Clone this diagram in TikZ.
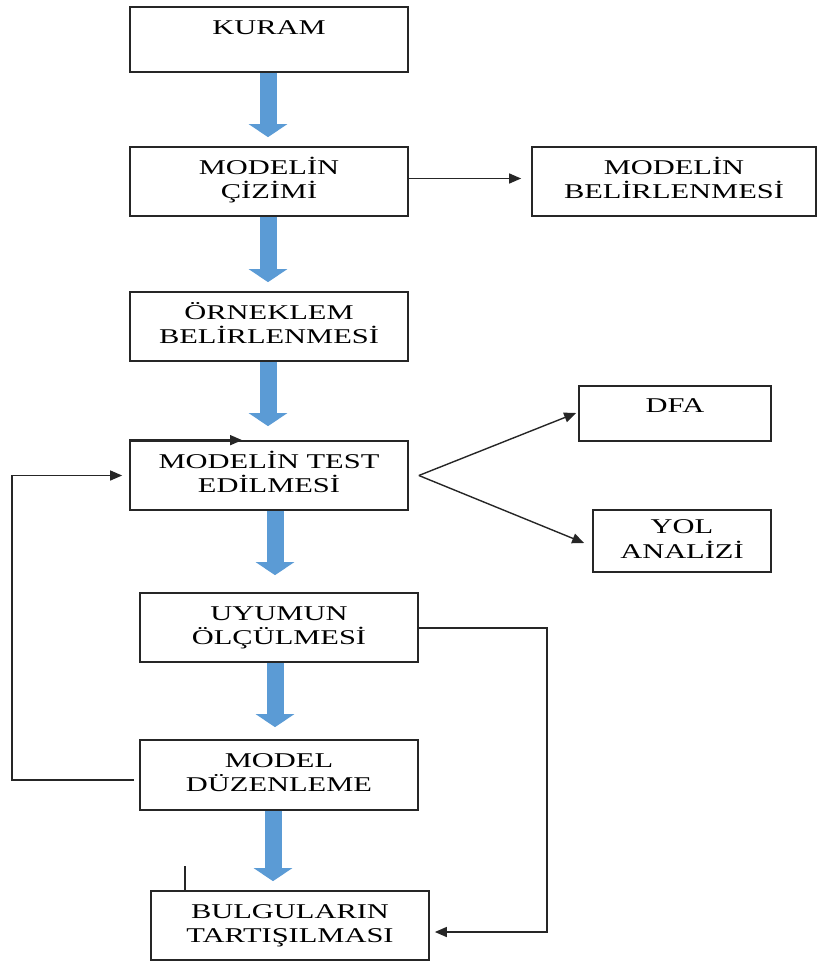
\documentclass[tikz,border=0pt]{standalone}
\usepackage{fontspec}
\setmainfont{Liberation Serif}
\usepackage{graphicx}
\usetikzlibrary{arrows.meta,calc}
\definecolor{flowblue}{RGB}{91,155,213}
\newcommand\W[1]{\scalebox{1.45}[1]{\begin{tabular}{@{}c@{}}#1\end{tabular}}}
\newcommand\Wone[2]{\raisebox{#1}[0pt][0pt]{\scalebox{1.45}[1]{#2}}}
\begin{document}
\begin{tikzpicture}[x=1pt,y=-1pt,
  box/.style={draw=black!85,line width=1.7pt,rectangle,inner sep=0pt,
    font=\fontsize{21}{24}\selectfont,text=black},
  bigarrow/.style={flowblue,line width=17pt,-{Triangle[width=38pt,length=13pt]}},
  conn/.style={black!85,line width=1.4pt,-{Triangle[width=10pt,length=12pt]}},
  plainline/.style={black!85,line width=1.4pt}]
\useasboundingbox (0,0) rectangle (818,963);

\node[box,minimum width=278,minimum height=65] (kuram) at (269,39.5) {\Wone{4.5pt}{KURAM}};
\node[box,minimum width=278,minimum height=69] (cizim) at (269,181.5) {\W{MODELİN\\ÇİZİMİ}};
\node[box,minimum width=284,minimum height=69] (belir) at (674,181.5) {\W{MODELİN\\BELİRLENMESİ}};
\node[box,minimum width=278,minimum height=69] (ornek) at (269,326.5) {\W{ÖRNEKLEM\\BELİRLENMESİ}};
\node[box,minimum width=278,minimum height=69] (test) at (269,475.5) {\W{MODELİN TEST\\EDİLMESİ}};
\node[box,minimum width=192,minimum height=55] (dfa) at (675,413.5) {\Wone{1.5pt}{DFA}};
\node[box,minimum width=178,minimum height=62] (yol) at (682,541) {\W{YOL\\ANALİZİ}};
\node[box,minimum width=278,minimum height=69] (uyum) at (279,627.5) {\W{UYUMUN\\ÖLÇÜLMESİ}};
\node[box,minimum width=278,minimum height=70] (duz) at (279,775) {\W{MODEL\\DÜZENLEME}};
\node[box,minimum width=278,minimum height=69] (bulg) at (290,925.5) {\W{BULGULARIN\\TARTIŞILMASI}};

% blue flow arrows
\draw[bigarrow] ($(kuram.south)+(-1,0)$) -- ($(cizim.north)+(-1,-9)$);
\draw[bigarrow] ($(cizim.south)+(-1,0)$) -- ($(ornek.north)+(-1,-9)$);
\draw[bigarrow] ($(ornek.south)+(-1,0)$) -- ($(test.north)+(-1,-14)$);
\draw[bigarrow] ($(test.south)+(6,0)$) -- ($(uyum.north)+(-4,-17)$);
\draw[bigarrow] ($(uyum.south)+(-4,0)$) -- ($(duz.north)+(-4,-12)$);
\draw[bigarrow] ($(duz.south)+(-6,0)$) -- ($(bulg.north)+(-17,-9)$);

% thin connectors
\draw[conn] ($(cizim.east)+(0,-3)$) -- ($(belir.west)+(-10,-3)$);
\coordinate (toptip) at ($(test.north west)+(113,0)$);
\draw[conn] (test.north west) -- (toptip);
\coordinate (fork) at ($(test.east)+(10,0)$);
\draw[conn] (fork) -- ($(dfa.west)+(-2,-0.5)$);
\draw[conn] (fork) -- ($(yol.west)+(-8,2)$);
\draw[conn] ($(duz.west)+(-5,5)$) -- ($(duz.west)+(-127,5)$) |- ($(test.west)+(-7,0)$);
\draw[conn] ($(uyum.east)+(0,0.5)$) -- ($(uyum.east)+(128,0.5)$) |- ($(bulg.east)+(5,6.5)$);
\draw[plainline] ($(bulg.north west)+(35,0)$) -- ++(0,-24);
\end{tikzpicture}
\end{document}
